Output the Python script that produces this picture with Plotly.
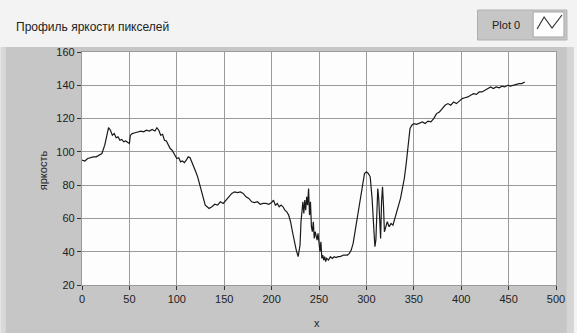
import plotly.graph_objects as go

# ---- data ----
x_vals = [0, 3, 6, 9, 12, 15, 18, 21, 24, 26, 28, 30, 32, 34, 36, 38, 40, 42, 44, 46, 48, 50,
          51, 53, 56, 59, 62, 65, 68, 71, 74, 77, 79, 81, 83, 85, 87, 89, 91, 93, 95, 97,
          100, 102, 104, 106, 108, 110, 112, 114, 116, 118, 120, 122, 124, 126, 128, 130,
          132, 134, 137, 140, 143, 146, 149, 152, 155, 158, 161, 164, 167, 170, 173, 176,
          179, 182, 185, 188, 191, 194, 197, 200, 202, 204, 206, 208, 210, 212, 214, 216,
          218, 220, 222, 224, 226, 228, 229, 230, 231, 232, 233, 234, 235, 236, 237, 238,
          239, 240, 241, 242, 243, 244, 245, 246, 247, 248, 249, 250, 251, 252, 253, 254,
          255, 256, 257, 258, 260, 262, 264, 266, 268, 270, 272, 274, 276, 278, 280, 282,
          284, 286, 288, 290, 292, 294, 296, 298, 300, 302, 304, 306, 308, 309, 310, 311,
          312, 313, 314, 315, 316, 317, 318, 319, 320, 322, 324, 326, 328, 330, 332, 334,
          336, 338, 340, 342, 344, 346, 348, 350, 353, 356, 359, 362, 365, 368, 371, 374,
          377, 380, 383, 386, 389, 392, 395, 398, 401, 404, 407, 410, 413, 416, 419, 422,
          425, 428, 431, 434, 437, 440, 443, 446, 449, 452, 455, 458, 461, 464, 467]
y_vals = [95, 94.5, 96, 96.5, 97, 97, 98, 99, 104, 110, 114.5, 113, 110, 111, 108.5, 109, 107,
          107.5, 106, 106.5, 105.5, 105,
          110, 111, 111.5, 112, 112.5, 112, 113, 112.5, 113.5, 112.5, 114.5, 113, 110, 110.5,
          107, 106.5, 104, 102, 101, 99,
          96, 96.5, 94, 94.5, 93.5, 95, 97, 96.5, 94, 91, 88, 85, 81, 77, 72, 68,
          67, 66, 67, 68.5, 68, 70, 69, 71, 73, 75, 76, 75.5, 76, 75, 73, 72,
          70, 69.5, 70, 68.5, 69, 69, 68.5, 69.5, 71, 68, 69, 67, 68, 67, 65, 64,
          62, 58, 52, 46, 41, 37, 40, 44, 58, 66, 70, 63, 71, 65, 73, 68,
          78, 62, 70, 55, 52, 58, 48, 52, 49, 47, 51, 44, 40, 46, 36, 38,
          35, 37, 34, 36, 35, 37, 36, 37, 36.5, 37, 37, 37.5, 38, 38, 38, 39,
          41, 45, 52, 59, 68, 75, 81, 87, 88, 87, 85, 72, 52, 43, 47, 60,
          78, 72, 56, 48, 70, 79, 68, 52, 54, 58, 55, 57, 56, 60, 64, 68,
          72, 78, 84, 93, 104, 114, 116, 117, 116.5, 117.5, 118, 117, 118.5, 118, 120, 123,
          124, 126, 128, 129, 128, 130, 129, 130.5, 132, 132.5, 133, 134, 135, 134.5, 136, 136,
          137, 137.5, 139, 138, 139, 138.5, 139.5, 139, 140, 139.5, 140, 140.5, 141, 141, 142]
x_ticks = [0, 50, 100, 150, 200, 250, 300, 350, 400, 450, 500]
y_ticks = [20, 40, 60, 80, 100, 120, 140, 160]
title_text = "Профиль яркости пикселей"
x_title = "x"
y_title = "яркость"
legend_name = "Plot 0"

# ---- layout geometry (pixels) ----
FW, FH = 577, 333
L, R, T, B = 82, 18, 52, 48
PW, PH = FW - L - R, FH - T - B


def px(x):
    return (x - L) / PW


def py(y):
    return (FH - B - y) / PH


FONT = "Liberation Sans Narrow, Liberation Sans, Arial, sans-serif"

fig = go.Figure()
fig.add_trace(go.Scatter(x=x_vals, y=y_vals, mode="lines", name=legend_name,
                         line=dict(color="#1a1a1a", width=1.2), showlegend=False))

shapes = [
    # grey panel
    dict(type="rect", xref="paper", yref="paper", x0=px(0), x1=px(5), y0=py(FH), y1=py(47),
         fillcolor="#d9d9d9", line=dict(width=0), layer="below"),
    dict(type="rect", xref="paper", yref="paper", x0=px(5), x1=px(570), y0=py(FH), y1=py(47),
         fillcolor="#c6c6c6", line=dict(width=0), layer="below"),
    dict(type="rect", xref="paper", yref="paper", x0=px(570), x1=px(FW), y0=py(FH), y1=py(47),
         fillcolor="#d5d5d5", line=dict(width=0), layer="below"),
    # plot area white
    dict(type="rect", xref="paper", yref="paper", x0=0, x1=1, y0=0, y1=1,
         fillcolor="#fdfdfd", line=dict(width=0), layer="below"),
    # legend box
    dict(type="rect", xref="paper", yref="paper", x0=px(480), x1=px(570), y0=py(40), y1=py(10),
         fillcolor="#c6c6c6", line=dict(color="#b0b0b0", width=1)),
    dict(type="rect", xref="paper", yref="paper", x0=px(536), x1=px(567), y0=py(37), y1=py(12),
         fillcolor="#fefefe", line=dict(color="#a8a8a8", width=1)),
    dict(type="path", xref="paper", yref="paper",
         path="M %f %f L %f %f L %f %f L %f %f" % (px(540), py(29), px(547), py(17),
                                                   px(555), py(28), px(565), py(15)),
         line=dict(color="#333333", width=1.2)),
]

annotations = [
    dict(text=title_text, xref="paper", yref="paper", x=px(14), y=py(27),
         xanchor="left", yanchor="middle", showarrow=False,
         font=dict(family=FONT, size=12, color="#222222")),
    dict(text=legend_name, xref="paper", yref="paper", x=px(509), y=py(25),
         xanchor="center", yanchor="middle", showarrow=False,
         font=dict(family=FONT, size=11, color="#222222")),
    dict(text=y_title, xref="paper", yref="paper", x=px(43), y=py(170),
         xanchor="center", yanchor="middle", showarrow=False, textangle=-90,
         font=dict(family=FONT, size=11, color="#222222")),
    dict(text=x_title, xref="paper", yref="paper", x=px(318), y=py(323),
         xanchor="center", yanchor="middle", showarrow=False,
         font=dict(family=FONT, size=11, color="#222222")),
]

fig.update_layout(
    width=FW, height=FH,
    margin=dict(l=L, r=R, t=T, b=B, pad=0),
    paper_bgcolor="#f3f3f3",
    plot_bgcolor="rgba(0,0,0,0)",
    shapes=shapes,
    annotations=annotations,
    font=dict(family=FONT, size=11, color="#222222"),
    xaxis=dict(range=[0, 500], tickvals=x_ticks, ticks="outside", ticklen=4,
               tickcolor="#333333", tickwidth=1, showgrid=True, gridcolor="#9a9a9a",
               gridwidth=1.3, zeroline=False, showline=True, linecolor="#9a9a9a",
               linewidth=1.3, mirror=True, tickfont=dict(size=11, color="#222222")),
    yaxis=dict(range=[20, 160], tickvals=y_ticks, ticks="outside", ticklen=4,
               tickcolor="#333333", tickwidth=1, showgrid=True, gridcolor="#9a9a9a",
               gridwidth=1.3, zeroline=False, showline=True, linecolor="#9a9a9a",
               linewidth=1.3, mirror=True, tickfont=dict(size=11, color="#222222")),
)

fig.write_html("out.html", config={"displayModeBar": False},
               post_script="document.body.style.margin='0';document.body.style.overflow='hidden';")
